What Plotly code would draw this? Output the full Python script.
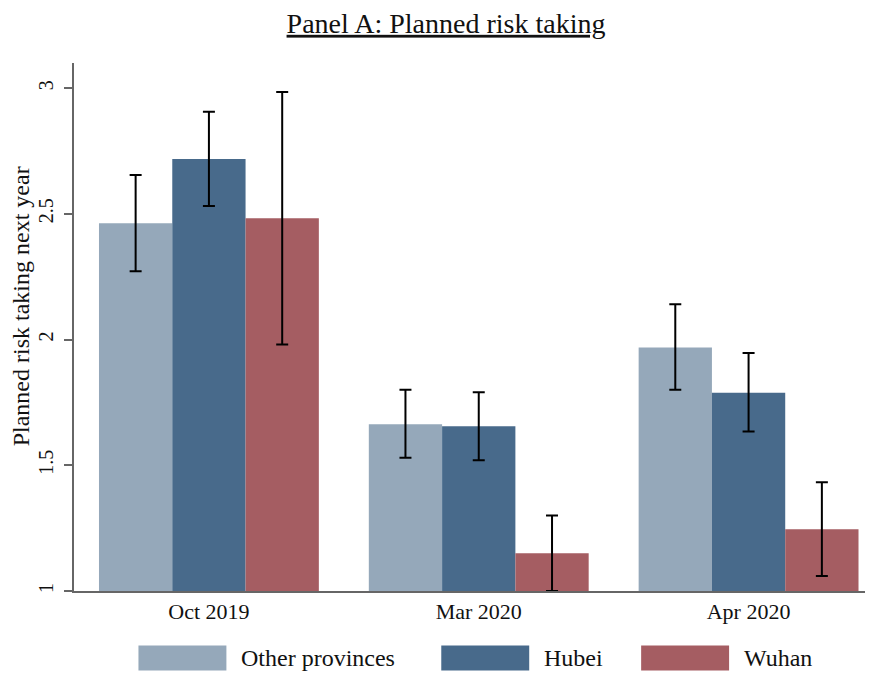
import plotly.graph_objects as go

categories = ["Oct 2019", "Mar 2020", "Apr 2020"]
series_names = ["Other provinces", "Hubei", "Wuhan"]
other_vals = [2.463, 1.663, 1.968]
other_lo = [2.272, 1.530, 1.800]
other_hi = [2.655, 1.800, 2.140]
hubei_vals = [2.718, 1.655, 1.788]
hubei_lo = [2.531, 1.520, 1.634]
hubei_hi = [2.906, 1.790, 1.947]
wuhan_vals = [2.483, 1.150, 1.246]
wuhan_lo = [1.980, 1.000, 1.060]
wuhan_hi = [2.985, 1.300, 1.433]
y_ticks = [1, 1.5, 2, 2.5, 3]
y_tick_labels = ["1", "1.5", "2", "2.5", "3"]
y_title = "Planned risk taking next year"

colors = ["#95a8ba", "#486a8b", "#a55d62"]
FONT = "Liberation Serif"

series = [
    (other_vals, other_lo, other_hi),
    (hubei_vals, hubei_lo, hubei_hi),
    (wuhan_vals, wuhan_lo, wuhan_hi),
]

# page body has an 8px margin: figure is drawn 8px in from the window corner
OFF = 8
W, H = 873 - OFF, 675 - OFF

fig = go.Figure()
for name, (vals, lo, hi), col in zip(series_names, series, colors):
    fig.add_trace(go.Bar(
        x=categories, y=[v - 1 for v in vals], base=1, name=name,
        marker=dict(color=col, line=dict(width=0)),
        error_y=dict(type="data", symmetric=False,
                     array=[h - v for h, v in zip(hi, vals)],
                     arrayminus=[v - l for v, l in zip(vals, lo)],
                     color="black", thickness=2, width=6),
        showlegend=False,
    ))

# plot area in figure pixels
L, R, T, B = 73.5 - OFF, 873.0 - OFF, 63.0 - OFF, 591.5 - OFF
def px(x):
    return (x - OFF - L) / (R - L)
def py(y):
    return (B - (y - OFF)) / (B - T)

sw_x = [138, 441, 641]
for name, col, sx in zip(series_names, colors, sw_x):
    fig.add_shape(type="rect", xref="paper", yref="paper",
                  x0=px(sx), x1=px(sx + 88), y0=py(671), y1=py(646),
                  fillcolor=col, line=dict(width=0))
    fig.add_annotation(xref="paper", yref="paper", x=px(sx + 101), y=py(659),
                       text=name, showarrow=False, xanchor="left", yanchor="middle",
                       font=dict(family=FONT, size=24, color="#111111"))

# y-axis title (placed as in the reference, slightly above the plot centre)
fig.add_annotation(xref="paper", yref="paper", x=px(20), y=py(307),
                   text=y_title, textangle=-90, showarrow=False,
                   xanchor="center", yanchor="middle",
                   font=dict(family=FONT, size=24, color="#111111"))

fig.update_layout(
    width=W, height=H,
    paper_bgcolor="white", plot_bgcolor="white",
    margin=dict(l=L, r=W - R, t=T, b=H - B),
    barmode="group", bargap=50/270, bargroupgap=0,
    font=dict(family=FONT, color="#111111"),
    title=dict(text="<u>Panel A: Planned risk taking</u>", x=(446 - OFF) / W, xanchor="center",
               y=1 - (23 - OFF) / H, yanchor="middle",
               font=dict(family=FONT, size=28, color="#111111")),
    xaxis=dict(range=[-0.5, -0.5 + (R - L) / 270], showline=True, linecolor="#666666",
               linewidth=2, ticks="", showgrid=False, zeroline=False,
               tickfont=dict(family=FONT, size=22, color="#111111")),
    yaxis=dict(range=[1, 3.1], tickvals=y_ticks, ticktext=y_tick_labels,
               showline=True, linecolor="#666666", linewidth=1.5,
               ticks="outside", ticklen=8, tickcolor="#666666", tickwidth=1.5,
               tickangle=-90, ticklabelstandoff=3,
               showgrid=False, zeroline=False,
               tickfont=dict(family=FONT, size=20, color="#111111")),
)

fig.write_html("out.html")
